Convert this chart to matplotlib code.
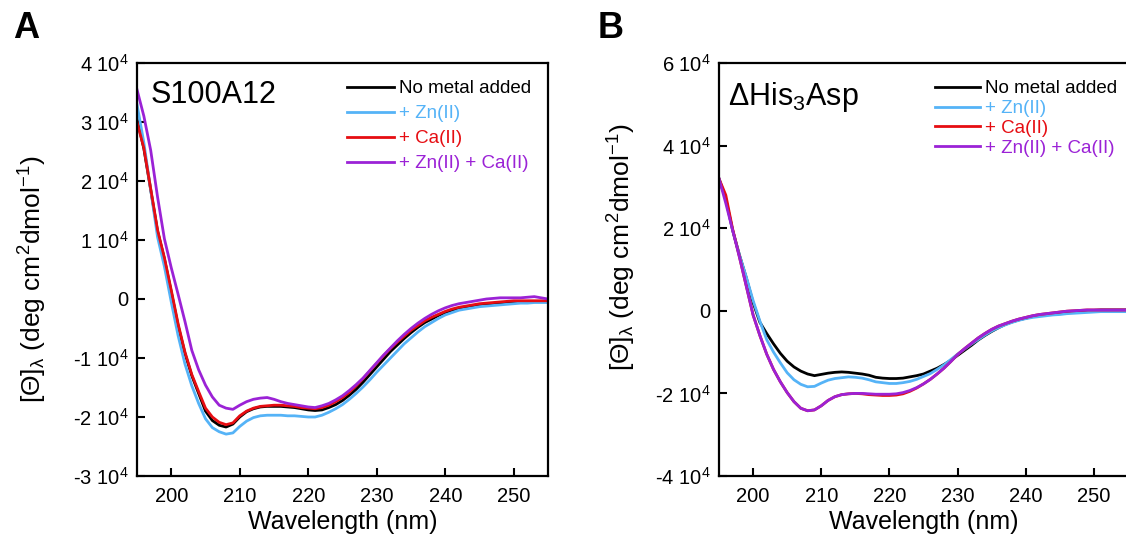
import matplotlib
matplotlib.use("Agg")
import matplotlib.pyplot as plt
import numpy as np

plt.rcParams['font.family'] = ['Liberation Sans', 'DejaVu Sans']
plt.rcParams['mathtext.fontset'] = 'custom'
plt.rcParams['mathtext.rm'] = 'Liberation Sans'
plt.rcParams['mathtext.it'] = 'Liberation Sans:italic'
plt.rcParams['mathtext.default'] = 'regular'

# ---------------- data (units of 1e4 deg cm2 dmol-1) ----------------
wavelength = list(range(195, 256))

a_none = [3.05, 2.55, 1.85, 1.15, 0.68, 0.12, -0.45, -0.92, -1.30, -1.60,
          -1.90, -2.06, -2.14, -2.17, -2.12, -2.00, -1.91, -1.86, -1.83, -1.82,
          -1.82, -1.82, -1.83, -1.84, -1.86, -1.88, -1.89, -1.88, -1.84, -1.79,
          -1.72, -1.63, -1.53, -1.41, -1.28, -1.15, -1.02, -0.89, -0.78, -0.67,
          -0.57, -0.48, -0.40, -0.34, -0.28, -0.23, -0.19, -0.16, -0.14, -0.12,
          -0.10, -0.09, -0.08, -0.07, -0.06, -0.05, -0.05, -0.04, -0.04, -0.04, -0.04]
a_zn = [3.30, 2.65, 1.85, 1.05, 0.55, -0.05, -0.62, -1.10, -1.47, -1.77,
        -2.03, -2.18, -2.25, -2.29, -2.27, -2.16, -2.07, -2.01, -1.98, -1.97,
        -1.97, -1.97, -1.98, -1.98, -1.99, -2.00, -2.00, -1.97, -1.92, -1.86,
        -1.79, -1.70, -1.60, -1.49, -1.37, -1.24, -1.12, -1.00, -0.88, -0.76,
        -0.66, -0.56, -0.47, -0.40, -0.33, -0.27, -0.23, -0.19, -0.17, -0.15,
        -0.13, -0.12, -0.11, -0.10, -0.09, -0.08, -0.07, -0.07, -0.06, -0.06, -0.06]
a_ca = [3.00, 2.56, 1.87, 1.17, 0.70, 0.15, -0.42, -0.90, -1.28, -1.57,
        -1.85, -2.00, -2.09, -2.13, -2.10, -1.98, -1.90, -1.85, -1.82, -1.81,
        -1.80, -1.80, -1.81, -1.82, -1.84, -1.85, -1.86, -1.84, -1.80, -1.74,
        -1.67, -1.58, -1.47, -1.35, -1.22, -1.09, -0.96, -0.84, -0.73, -0.63,
        -0.53, -0.45, -0.37, -0.31, -0.26, -0.21, -0.17, -0.14, -0.12, -0.10,
        -0.08, -0.07, -0.06, -0.05, -0.04, -0.03, -0.03, -0.03, -0.03, -0.03, -0.03]
a_znca = [3.55, 3.10, 2.52, 1.73, 1.02, 0.53, 0.08, -0.38, -0.87, -1.20,
          -1.46, -1.66, -1.80, -1.85, -1.87, -1.80, -1.74, -1.70, -1.68, -1.67,
          -1.70, -1.74, -1.77, -1.79, -1.81, -1.83, -1.84, -1.81, -1.77, -1.71,
          -1.64, -1.55, -1.45, -1.34, -1.21, -1.08, -0.95, -0.83, -0.71, -0.60,
          -0.50, -0.41, -0.33, -0.26, -0.20, -0.15, -0.11, -0.08, -0.06, -0.04,
          -0.02, 0.00, 0.01, 0.02, 0.02, 0.02, 0.02, 0.03, 0.04, 0.02, 0.00]

b_none = [3.20, 2.70, 1.95, 1.35, 0.80, 0.20, -0.28, -0.55, -0.80, -1.03,
          -1.22, -1.36, -1.46, -1.53, -1.57, -1.54, -1.51, -1.49, -1.48, -1.49,
          -1.51, -1.53, -1.56, -1.61, -1.63, -1.64, -1.64, -1.63, -1.60, -1.57,
          -1.53, -1.46, -1.39, -1.30, -1.20, -1.08, -0.96, -0.84, -0.71, -0.60,
          -0.50, -0.41, -0.33, -0.27, -0.22, -0.18, -0.14, -0.11, -0.09, -0.07,
          -0.05, -0.03, -0.02, -0.01, 0.00, 0.01, 0.02, 0.02, 0.02, 0.02, 0.02]
b_zn = [3.20, 2.70, 1.95, 1.35, 0.82, 0.25, -0.25, -0.70, -1.00, -1.26,
        -1.50, -1.67, -1.78, -1.84, -1.83, -1.75, -1.68, -1.64, -1.62, -1.60,
        -1.61, -1.63, -1.67, -1.72, -1.74, -1.76, -1.76, -1.74, -1.71, -1.66,
        -1.59, -1.52, -1.42, -1.31, -1.18, -1.05, -0.93, -0.81, -0.70, -0.59,
        -0.49, -0.41, -0.34, -0.28, -0.23, -0.19, -0.16, -0.14, -0.12, -0.10,
        -0.09, -0.07, -0.06, -0.05, -0.04, -0.03, -0.02, -0.02, -0.02, -0.02, -0.02]
b_ca = [3.20, 2.80, 1.98, 1.30, 0.60, -0.10, -0.60, -1.05, -1.42, -1.72,
        -1.98, -2.20, -2.36, -2.42, -2.40, -2.30, -2.17, -2.08, -2.03, -2.01,
        -2.00, -2.01, -2.03, -2.04, -2.05, -2.05, -2.04, -2.01, -1.95, -1.87,
        -1.77, -1.66, -1.53, -1.39, -1.23, -1.06, -0.92, -0.79, -0.66, -0.55,
        -0.45, -0.37, -0.31, -0.25, -0.20, -0.16, -0.12, -0.09, -0.07, -0.05,
        -0.03, -0.01, 0.00, 0.01, 0.02, 0.02, 0.02, 0.02, 0.02, 0.02, 0.02]
b_znca = [3.20, 2.60, 1.95, 1.30, 0.60, -0.10, -0.60, -1.05, -1.42, -1.72,
          -1.98, -2.20, -2.36, -2.42, -2.40, -2.30, -2.17, -2.08, -2.03, -2.01,
          -2.00, -2.00, -2.01, -2.02, -2.02, -2.02, -2.01, -1.98, -1.93, -1.86,
          -1.77, -1.66, -1.53, -1.39, -1.23, -1.06, -0.92, -0.79, -0.66, -0.55,
          -0.45, -0.37, -0.31, -0.25, -0.20, -0.16, -0.12, -0.09, -0.07, -0.05,
          -0.03, -0.01, 0.00, 0.01, 0.02, 0.02, 0.02, 0.02, 0.02, 0.02, 0.02]

series_labels = ['No metal added', '+ Zn(II)', '+ Ca(II)', '+ Zn(II) + Ca(II)']
series_colors = ['#000000', '#55B3F7', '#E60D12', '#9B22D6']

a_yticks = [-3, -2, -1, 0, 1, 2, 3, 4]
a_yticklabels = ['-3 10$^{4}$', '-2 10$^{4}$', '-1 10$^{4}$', '0',
                 '1 10$^{4}$', '2 10$^{4}$', '3 10$^{4}$', '4 10$^{4}$']
b_yticks = [-4, -2, 0, 2, 4, 6]
b_yticklabels = ['-4 10$^{4}$', '-2 10$^{4}$', '0', '2 10$^{4}$',
                 '4 10$^{4}$', '6 10$^{4}$']
xticks = [200, 210, 220, 230, 240, 250]

ylabel = '[Θ]$_{λ}$ (deg cm$^{2}$dmol$^{-1}$)'

# ---------------- figure ----------------
W, H = 1126, 548
fig = plt.figure(figsize=(W / 100, H / 100), dpi=100)


def px_axes(l, t, r, b):
    return fig.add_axes([l / W, 1 - b / H, (r - l) / W, (b - t) / H])


axA = px_axes(137, 63, 548, 476)
axB = px_axes(719, 63, 1128, 476)


def style(ax, yticks, yticklabels, ylim):
    ax.set_xlim(195, 255)
    ax.set_ylim(*ylim)
    ax.set_xticks(xticks)
    ax.set_xticklabels([str(t) for t in xticks])
    ax.set_yticks(yticks)
    ax.set_yticklabels(yticklabels)
    ax.tick_params(direction='in', length=6, width=1.5, labelsize=14.5)
    ax.tick_params(axis='x', pad=8)
    ax.tick_params(axis='y', pad=6)
    for s in ax.spines.values():
        s.set_linewidth(1.6)
    ax.set_xlabel('Wavelength (nm)', fontsize=18, labelpad=3)
    ax.set_ylabel(ylabel, fontsize=19)


style(axA, a_yticks, a_yticklabels, (-3, 4))
style(axB, b_yticks, b_yticklabels, (-4, 6))

for ys, lab, col in zip([a_none, a_zn, a_ca, a_znca], series_labels, series_colors):
    axA.plot(wavelength, ys, color=col, lw=2.0, label=lab)
for ys, lab, col in zip([b_none, b_zn, b_ca, b_znca], series_labels, series_colors):
    axB.plot(wavelength, ys, color=col, lw=2.0, label=lab)

axA.yaxis.set_label_coords(-0.215, 0.477)
axB.yaxis.set_label_coords(-0.198, 0.554)

axA.text(0.032, 0.903, 'S100A12', transform=axA.transAxes, fontsize=22,
         va='baseline', ha='left')
axB.text(0.022, 0.898, 'ΔHis$_{3}$Asp', transform=axB.transAxes, fontsize=22,
         va='baseline', ha='left')

legA = axA.legend(loc='upper left', bbox_to_anchor=(0.511, 0.958), frameon=False,
                  fontsize=13.5, handlelength=2.5, handletextpad=0.25,
                  labelspacing=0.42, borderpad=0, borderaxespad=0,
                  labelcolor=series_colors)
legB = axB.legend(loc='upper left', bbox_to_anchor=(0.529, 0.958), frameon=False,
                  fontsize=13.5, handlelength=2.4, handletextpad=0.25,
                  labelspacing=0.14, borderpad=0, borderaxespad=0,
                  labelcolor=series_colors)

fig.text(13 / W, 1 - 11 / H, 'A', fontsize=26, fontweight='bold', va='top', ha='left')
fig.text(598 / W, 1 - 11 / H, 'B', fontsize=26, fontweight='bold', va='top', ha='left')

fig.savefig('out.png', dpi=100)
